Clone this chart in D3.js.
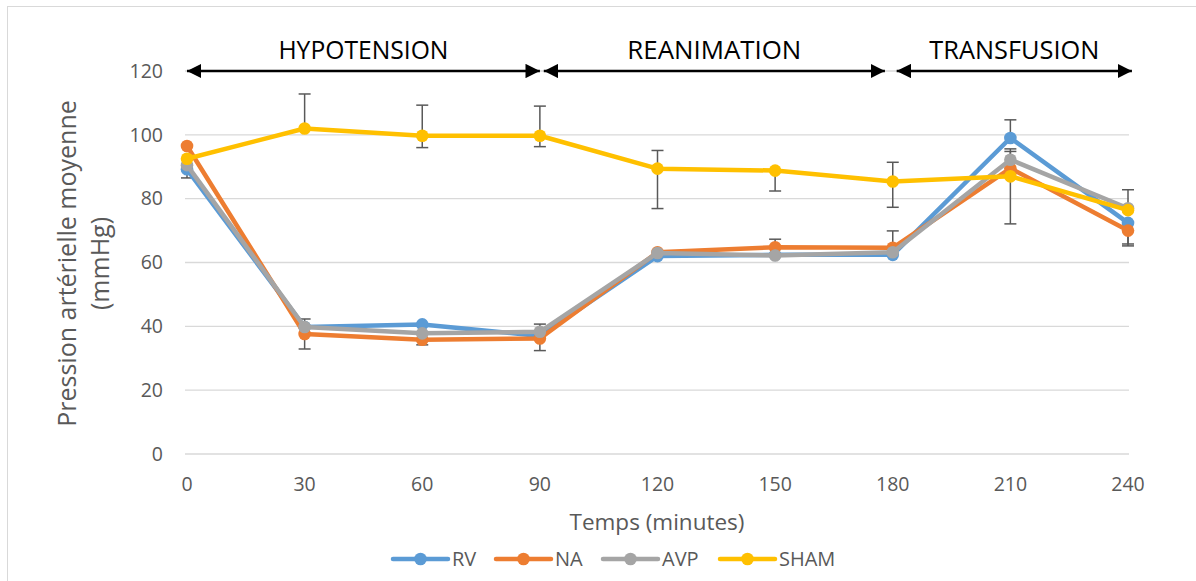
<!DOCTYPE html>
<html><head><meta charset="utf-8">
<script src="https://cdn.jsdelivr.net/npm/d3@7"></script>
<style>
html,body{margin:0;padding:0;background:#fff;}
svg{display:block;font-family:"Open Sans","Liberation Sans",sans-serif;}
</style></head>
<body><svg id="c" width="1196" height="581"></svg>
<script>
const times = [0, 30, 60, 90, 120, 150, 180, 210, 240];
const seriesNames = ["RV", "NA", "AVP", "SHAM"];
const colors = ["#5B9BD5", "#ED7D31", "#A5A5A5", "#FFC000"];
const rvValues   = [89.2, 39.8, 40.6, 37.0, 62.0, 62.4, 62.4, 99.0, 72.4];
const naValues   = [96.5, 37.6, 35.8, 36.2, 63.2, 64.8, 64.6, 89.5, 70.0];
const avpValues  = [90.5, 39.8, 37.8, 38.3, 63.0, 62.2, 63.2, 92.2, 77.0];
const shamValues = [92.5, 102.0, 99.7, 99.7, 89.4, 88.8, 85.4, 87.0, 76.4];
// visible error bar extents (plus / minus), null when hidden
const rvErrPlus    = [null, null, null, null, null, null, null, 5.7, null];
const rvErrMinus   = [2.7, null, null, null, null, null, null, null, 6.6];
const naErrPlus    = [null, null, null, null, null, 2.5, 5.3, 5.3, null];
const naErrMinus   = [null, 4.7, 1.6, 3.8, null, null, null, null, 4.8];
const avpErrPlus   = [null, 2.5, null, 2.4, null, null, null, 3.4, null];
const avpErrMinus  = [null, null, null, null, null, null, null, null, null];
const shamErrPlus  = [null, 10.8, 9.6, 9.3, 5.7, null, 6.0, null, 6.4];
const shamErrMinus = [null, null, 3.7, 3.4, 12.5, 6.4, 8.1, 14.9, null];
const yTicks = [0, 20, 40, 60, 80, 100, 120];
const phaseLabels = ["HYPOTENSION", "REANIMATION", "TRANSFUSION"];
const phaseStart = [0, 91, 181];
const phaseEnd = [90, 178, 241];
const xTitle = "Temps (minutes)";
const yTitle1 = "Pression artérielle moyenne";
const yTitle2 = "(mmHg)";

const values = [rvValues, naValues, avpValues, shamValues];
const errPlus = [rvErrPlus, naErrPlus, avpErrPlus, shamErrPlus];
const errMinus = [rvErrMinus, naErrMinus, avpErrMinus, shamErrMinus];

const svg = d3.select("#c");
svg.append("rect").attr("x",7.5).attr("y",6.5).attr("width",1200).attr("height",600)
  .attr("fill","none").attr("stroke","#d9d9d9").attr("stroke-width",1);

const x = d3.scaleLinear().domain([0,240]).range([187,1128]);
const y = d3.scaleLinear().domain([0,120]).range([454,71]);
const textCol = "#595959";

// gridlines
svg.append("g").selectAll("line").data(yTicks).join("line")
  .attr("x1",x(0)-2).attr("x2",x(240)+1)
  .attr("y1",d=>y(d)).attr("y2",d=>y(d))
  .attr("stroke","#d9d9d9").attr("stroke-width",1.3);

// y tick labels
svg.append("g").selectAll("text").data(yTicks).join("text")
  .attr("x",163).attr("y",d=>y(d)).attr("dy","0.35em")
  .attr("text-anchor","end").attr("font-size",19.5).attr("fill",textCol)
  .text(d=>d);
// x tick labels
svg.append("g").selectAll("text").data(times).join("text")
  .attr("x",d=>x(d)).attr("y",484).attr("dy","0.35em")
  .attr("text-anchor","middle").attr("font-size",19.5).attr("fill",textCol)
  .text(d=>d);

// axis titles
svg.append("text").attr("x",657).attr("y",522).attr("dy","0.35em")
  .attr("text-anchor","middle").attr("font-size",22.5).attr("fill",textCol).text(xTitle);
const yt = svg.append("text").attr("transform",`translate(0,${y(60)+1}) rotate(-90)`)
  .attr("text-anchor","middle").attr("font-size",25).attr("fill",textCol);
yt.append("tspan").attr("x",0).attr("y",76).text(yTitle1);
yt.append("tspan").attr("x",0).attr("y",109).text(yTitle2);

// phase arrows
const defs = svg.append("defs");
["s","e"].forEach(k=>{
  defs.append("marker").attr("id","ar"+k).attr("viewBox","0 0 10 10")
    .attr("refX",k==="e"?10:0).attr("refY",5).attr("markerWidth",6).attr("markerHeight",6)
    .attr("markerUnits","strokeWidth").attr("orient","auto")
    .append("path").attr("d",k==="e"?"M0,0 L10,5 L0,10 Z":"M10,0 L0,5 L10,10 Z").attr("fill","#000");
});
const labelWidths = [170, 174, 170];
phaseLabels.forEach((lab,i)=>{
  svg.append("line").attr("x1",x(phaseStart[i])).attr("x2",x(phaseEnd[i]))
    .attr("y1",y(120)).attr("y2",y(120)).attr("stroke","#000").attr("stroke-width",2.4)
    .attr("marker-start","url(#ars)").attr("marker-end","url(#are)");
  svg.append("text").attr("x",(x(phaseStart[i])+x(phaseEnd[i]))/2).attr("y",50).attr("dy","0.36em")
    .attr("text-anchor","middle").attr("font-size",26).attr("fill","#000")
    .attr("textLength", labelWidths[i]).attr("lengthAdjust","spacingAndGlyphs").text(lab);
});

// error bars
const eb = svg.append("g");
values.forEach((vals,s)=>{
  vals.forEach((v,i)=>{
    const p = errPlus[s][i], m = errMinus[s][i];
    const hi = p==null ? v : v+p, lo = m==null ? v : v-m;
    if (p==null && m==null) return;
    eb.append("line").attr("x1",x(times[i])).attr("x2",x(times[i]))
      .attr("y1",y(hi)).attr("y2",y(lo)).attr("stroke","#595959").attr("stroke-width",1.5);
    if (p!=null) eb.append("line").attr("x1",x(times[i])-6).attr("x2",x(times[i])+6)
      .attr("y1",y(hi)).attr("y2",y(hi)).attr("stroke","#595959").attr("stroke-width",1.5);
    if (m!=null) eb.append("line").attr("x1",x(times[i])-6).attr("x2",x(times[i])+6)
      .attr("y1",y(lo)).attr("y2",y(lo)).attr("stroke","#595959").attr("stroke-width",1.5);
  });
});

// series
const line = d3.line().x((d,i)=>x(times[i])).y(d=>y(d));
values.forEach((vals,s)=>{
  const g = svg.append("g");
  g.append("path").datum(vals).attr("d",line).attr("fill","none")
    .attr("stroke",colors[s]).attr("stroke-width",4.5).attr("stroke-linejoin","round").attr("stroke-linecap","round");
  g.selectAll("circle").data(vals).join("circle")
    .attr("cx",(d,i)=>x(times[i])).attr("cy",d=>y(d)).attr("r",6.3).attr("fill",colors[s]);
});

// legend
const legX = [393, 496, 603, 720];
const lg = svg.append("g");
seriesNames.forEach((n,i)=>{
  lg.append("line").attr("x1",legX[i]).attr("x2",legX[i]+55).attr("y1",559).attr("y2",559)
    .attr("stroke",colors[i]).attr("stroke-width",4.5).attr("stroke-linecap","round");
  lg.append("circle").attr("cx",legX[i]+27.5).attr("cy",559).attr("r",6.3).attr("fill",colors[i]);
  lg.append("text").attr("x",legX[i]+59).attr("y",559).attr("dy","0.35em")
    .attr("font-size",20).attr("fill",textCol).text(n);
});
</script></body></html>
